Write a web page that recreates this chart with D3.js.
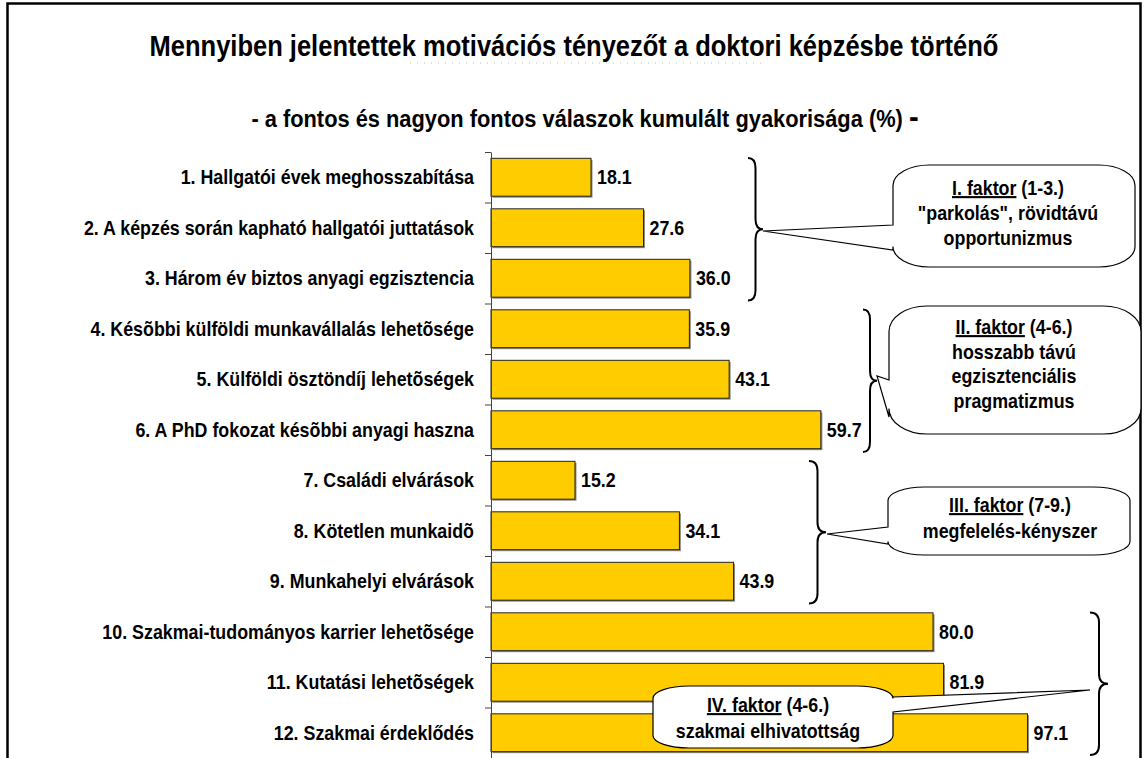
<!DOCTYPE html>
<html>
<head>
<meta charset="utf-8">
<script src="https://cdnjs.cloudflare.com/ajax/libs/d3/7.8.5/d3.min.js"></script>
<style>
  body { margin: 0; background: #fff; }
  text { font-family: "Liberation Sans", Arial, sans-serif; font-weight: bold; fill: #000; }
</style>
</head>
<body>
<svg id="chart" width="1145" height="758"></svg>
<script>
// data
var categories = [
  "1. Hallgatói évek meghosszabítása",
  "2. A képzés során kapható hallgatói juttatások",
  "3. Három év biztos anyagi egzisztencia",
  "4. Késõbbi külföldi munkavállalás lehetõsége",
  "5. Külföldi ösztöndíj lehetõségek",
  "6. A PhD fokozat késõbbi anyagi haszna",
  "7. Családi elvárások",
  "8. Kötetlen munkaidõ",
  "9. Munkahelyi elvárások",
  "10. Szakmai-tudományos karrier lehetõsége",
  "11. Kutatási lehetõségek",
  "12. Szakmai érdeklődés"
];
var values = [18.1, 27.6, 36.0, 35.9, 43.1, 59.7, 15.2, 34.1, 43.9, 80.0, 81.9, 97.1];

var titleText = "Mennyiben jelentettek motivációs tényezőt a doktori képzésbe történő";
var subtitleText = "- a fontos és nagyon fontos válaszok kumulált gyakorisága (%) ";

// factor groups (item index ranges) and callout texts
var factorNames = ["I. faktor", "II. faktor", "III. faktor", "IV. faktor"];
var factorRanges = [" (1-3.)", " (4-6.)", " (7-9.)", " (4-6.)"];
var factorItems = [[0, 2], [3, 5], [6, 8], [9, 11]];
var factorLines = [
  ["\"parkolás\", rövidtávú", "opportunizmus"],
  ["hosszabb távú", "egzisztenciális", "pragmatizmus"],
  ["megfelelés-kényszer"],
  ["szakmai elhivatottság"]
];

// layout of the annotations (not data)
var braceX = [748, 863, 809, 1090];
var braceW = [15, 14, 17, 18];
var callouts = [
  {box: [893, 165, 1135, 267], side: "left",  base: [225, 250], tip: [763, 231], cx: 1008, y0: 195, lh: 25},
  {box: [889, 306, 1141, 434], side: "left",  base: [380, 417], tip: [877, 376], cx: 1014, y0: 334, lh: 24.5},
  {box: [888, 487, 1130, 555], side: "left",  base: [527, 544], tip: [827, 534], cx: 1010, y0: 512, lh: 26},
  {box: [653, 686, 893, 748],  side: "right", base: [697, 712], tip: [1090, 690], cx: 768, y0: 712, lh: 26}
];

var SX = 0.85; // horizontal squeeze of the narrow bold font
var FS = 21;

var svg = d3.select("#chart");

// chart frame
svg.append("rect")
  .attr("x", 7.5).attr("y", 3.5)
  .attr("width", 1133).attr("height", 820)
  .attr("fill", "none").attr("stroke", "#000").attr("stroke-width", 2.5);

function squeezed(parent, x, y, sx, size, anchor) {
  return parent.append("text")
    .attr("transform", "translate(" + x + "," + y + ") scale(" + sx + ",1)")
    .attr("text-anchor", anchor)
    .style("font-size", size + "px");
}

// titles
squeezed(svg, 574, 56, 0.88, 29, "middle").text(titleText);
svg.append("line")
  .attr("x1", 410).attr("x2", 762).attr("y1", 63).attr("y2", 63)
  .attr("stroke", "#bbb").attr("stroke-dasharray", "1,6");
var sub = squeezed(svg, 585, 127, 0.91, 24, "middle");
sub.append("tspan").text(subtitleText);
sub.append("tspan").style("font-size", "32px").text("-");

// scales
var x = d3.scaleLinear().domain([0, 100]).range([491, 1043.5]);
var y = d3.scaleBand().domain(categories).range([152, 758]).paddingInner(0.25).paddingOuter(0.125);
var yEdge = d3.scaleLinear().domain([0, categories.length]).range([152, 758]);

// bars
var bars = svg.append("g");
bars.selectAll("rect.shadow").data(values).join("rect")
  .attr("class", "shadow")
  .attr("x", x(0) + 1.5)
  .attr("y", function(d, i) { return y(categories[i]) + 1.5; })
  .attr("width", function(d) { return x(d) - x(0); })
  .attr("height", y.bandwidth())
  .attr("fill", "#8a8a8a");
bars.selectAll("rect.bar").data(values).join("rect")
  .attr("class", "bar")
  .attr("x", x(0))
  .attr("y", function(d, i) { return y(categories[i]); })
  .attr("width", function(d) { return x(d) - x(0); })
  .attr("height", y.bandwidth())
  .attr("fill", "#FFCC00")
  .attr("stroke", "#222").attr("stroke-width", 1);

// category axis: tick marks between categories
svg.append("g")
  .attr("transform", "translate(" + x(0) + ",0)")
  .call(d3.axisLeft(yEdge).tickValues(d3.range(categories.length + 1)).tickSize(6).tickSizeOuter(0).tickFormat(""))
  .call(function(g) {
    g.selectAll("path, line").attr("stroke", "#444");
  });

// category labels
categories.forEach(function(c) {
  squeezed(svg, 474, y(c) + y.bandwidth() / 2 + 7, SX, FS, "end").text(c);
});

// value labels
var fmt = d3.format(".1f");
values.forEach(function(v, i) {
  squeezed(svg, x(v) + 6, y(categories[i]) + y.bandwidth() / 2 + 7, SX, FS, "start").text(fmt(v));
});

// braces
function bracePath(x0, y0, y1, w) {
  var m = (y0 + y1) / 2, h = x0 + w / 2, r = 10;
  return "M" + x0 + "," + y0 +
    " Q" + h + "," + y0 + " " + h + "," + (y0 + r) +
    " L" + h + "," + (m - r) +
    " Q" + h + "," + m + " " + (x0 + w) + "," + m +
    " Q" + h + "," + m + " " + h + "," + (m + r) +
    " L" + h + "," + (y1 - r) +
    " Q" + h + "," + y1 + " " + x0 + "," + y1;
}
factorItems.forEach(function(it, k) {
  var top = yEdge(it[0]) + 6, bottom = yEdge(it[1] + 1) - 3;
  svg.append("path")
    .attr("d", bracePath(braceX[k], top, bottom, braceW[k]))
    .attr("fill", "none").attr("stroke", "#000").attr("stroke-width", 2);
});

// callouts
function calloutPath(c) {
  var x0 = c.box[0], y0 = c.box[1], x1 = c.box[2], y1 = c.box[3];
  var rx = (x1 - x0) * 0.15, ry = (y1 - y0) * 0.2;
  var p = "M" + (x0 + rx) + "," + y0 + " L" + (x1 - rx) + "," + y0 +
    " A" + rx + "," + ry + " 0 0 1 " + x1 + "," + (y0 + ry);
  if (c.side === "right") {
    p += " L" + x1 + "," + c.base[0] + " L" + c.tip[0] + "," + c.tip[1] + " L" + x1 + "," + c.base[1];
  }
  p += " L" + x1 + "," + (y1 - ry) +
    " A" + rx + "," + ry + " 0 0 1 " + (x1 - rx) + "," + y1 +
    " L" + (x0 + rx) + "," + y1 +
    " A" + rx + "," + ry + " 0 0 1 " + x0 + "," + (y1 - ry);
  if (c.side === "left") {
    p += " L" + x0 + "," + c.base[1] + " L" + c.tip[0] + "," + c.tip[1] + " L" + x0 + "," + c.base[0];
  }
  p += " L" + x0 + "," + (y0 + ry) +
    " A" + rx + "," + ry + " 0 0 1 " + (x0 + rx) + "," + y0 + " Z";
  return p;
}
callouts.forEach(function(c, k) {
  svg.append("path")
    .attr("d", calloutPath(c))
    .attr("fill", "#fff").attr("stroke", "#000").attr("stroke-width", 1.2);
  var t1 = squeezed(svg, c.cx, c.y0, SX, FS, "middle");
  t1.append("tspan").style("text-decoration", "underline").text(factorNames[k]);
  t1.append("tspan").text(factorRanges[k]);
  factorLines[k].forEach(function(line, j) {
    squeezed(svg, c.cx, c.y0 + (j + 1) * c.lh, SX, FS, "middle").text(line);
  });
});
</script>
</body>
</html>
